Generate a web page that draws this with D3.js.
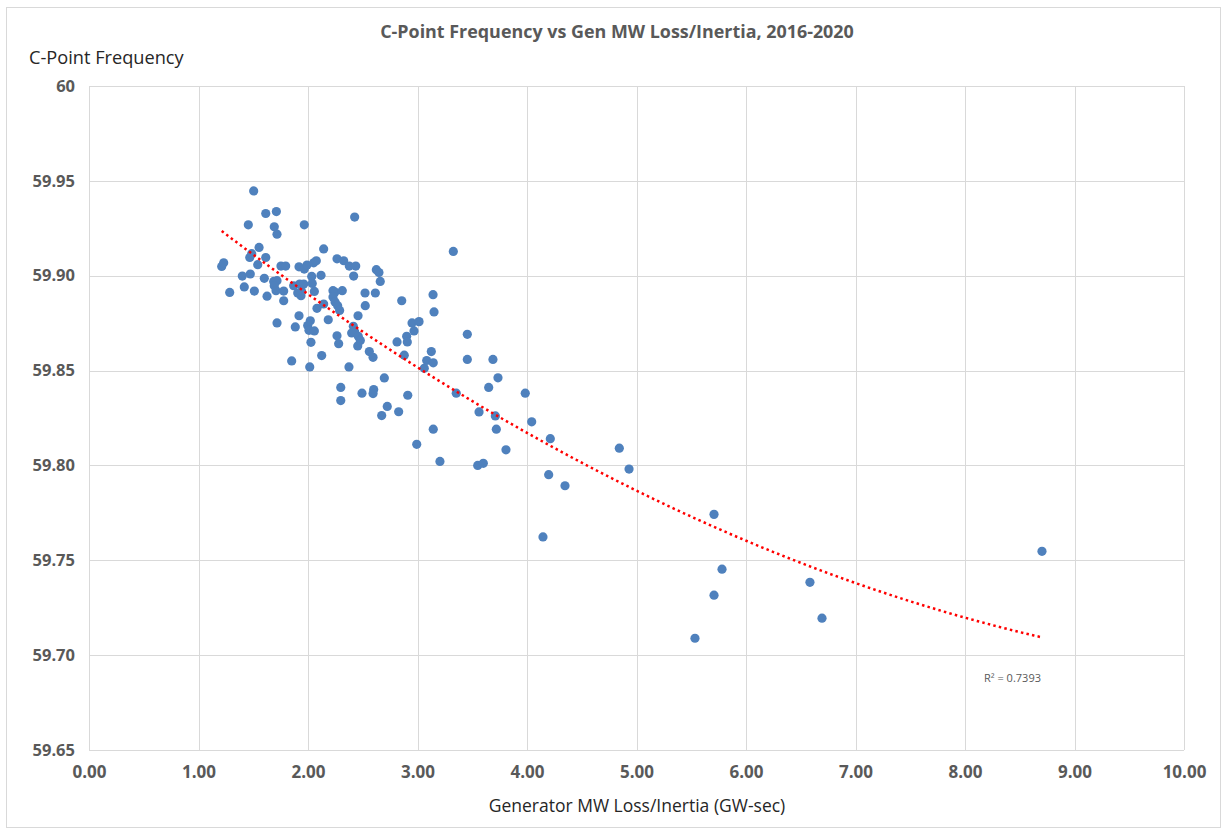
<!DOCTYPE html>
<html lang="en">
  <head>
    <meta charset="UTF-8" />
    <title>C-Point Frequency vs Gen MW Loss/Inertia</title>
    <style>
      * {
        margin: 0;
        padding: 0;
      }
      body {
        background: #fff;
      }
      svg text {
        font-family: 'Open Sans', Carlito, sans-serif;
      }
    </style>
  </head>
  <body>
    <script src="https://cdn.jsdelivr.net/npm/d3@7"></script>
    <script>
      // generator MW loss / inertia (GW-sec)
      const lossInertia = [
        1.212, 1.23, 1.285, 1.4, 1.418, 1.455, 1.468, 1.473, 1.486, 1.504,
        1.51, 1.541, 1.553, 1.601, 1.614, 1.614, 1.626, 1.687, 1.692, 1.711,
        1.717, 1.717, 1.692, 1.717, 1.708, 1.753, 1.796, 1.778, 1.778, 1.851,
        1.869, 1.884, 1.906, 1.918, 1.918, 1.924, 1.936, 1.942, 1.961, 1.966,
        1.966, 1.991, 1.997, 2.009, 2.021, 2.016, 2.027, 2.034, 2.039, 2.052,
        2.058, 2.058, 2.076, 2.082, 2.119, 2.125, 2.143, 2.143, 2.185, 2.228,
        2.247, 2.228, 2.247, 2.271, 2.289, 2.265, 2.265, 2.28, 2.299, 2.299,
        2.313, 2.326, 2.374, 2.377, 2.399, 2.414, 2.417, 2.426, 2.426, 2.436,
        2.454, 2.457, 2.459, 2.478, 2.493, 2.521, 2.523, 2.56, 2.594, 2.6,
        2.594, 2.615, 2.624, 2.648, 2.66, 2.673, 2.697, 2.724, 2.813, 2.828,
        2.856, 2.879, 2.901, 2.907, 2.911, 2.95, 2.968, 3.014, 2.993, 3.062,
        3.084, 3.126, 3.144, 3.142, 3.151, 3.144, 3.205, 3.327, 3.354, 3.455,
        3.455, 3.55, 3.601, 3.562, 3.65, 3.689, 3.711, 3.72, 3.735, 3.808,
        3.984, 4.043, 4.146, 4.198, 4.213, 4.347, 4.843, 4.932, 5.534, 5.708,
        5.708, 5.781, 6.584, 6.694, 8.703
      ]

      // C-point frequency (Hz)
      const cPointFreq = [
        59.9049, 59.9068, 59.8912, 59.8998, 59.8941, 59.9268, 59.9096, 59.9009, 59.9116, 59.9447,
        59.8919, 59.9058, 59.9149, 59.8986, 59.9328, 59.9096, 59.8892, 59.897, 59.9258, 59.9338,
        59.9219, 59.8974, 59.8947, 59.8751, 59.8921, 59.9051, 59.9051, 59.8919, 59.8868, 59.8551,
        59.8947, 59.873, 59.8909, 59.9047, 59.8789, 59.8956, 59.8895, 59.8917, 59.8956, 59.9268,
        59.9035, 59.9056, 59.8737, 59.8712, 59.8762, 59.8519, 59.8649, 59.8996, 59.8959, 59.9068,
        59.8917, 59.8709, 59.9079, 59.8828, 59.9002, 59.8579, 59.9141, 59.8851, 59.8768, 59.8921,
        59.8914, 59.8888, 59.8862, 59.8842, 59.8817, 59.9089, 59.8683, 59.8642, 59.8411, 59.8342,
        59.8921, 59.9079, 59.8519, 59.9051, 59.8698, 59.8733, 59.8998, 59.9309, 59.8704, 59.9051,
        59.863, 59.8789, 59.8681, 59.8659, 59.8381, 59.8909, 59.8842, 59.86, 59.857, 59.84,
        59.8379, 59.8909, 59.9032, 59.9017, 59.897, 59.8263, 59.8461, 59.8311, 59.8651, 59.8283,
        59.8868, 59.8581, 59.8681, 59.8651, 59.837, 59.8751, 59.8709, 59.8758, 59.8111, 59.8512,
        59.8553, 59.86, 59.8541, 59.89, 59.8809, 59.8191, 59.8021, 59.9128, 59.8381, 59.8691,
        59.8559, 59.8, 59.8011, 59.8282, 59.8411, 59.8559, 59.8261, 59.8191, 59.8462, 59.8082,
        59.8381, 59.823, 59.7623, 59.7951, 59.8141, 59.7893, 59.8091, 59.7981, 59.7089, 59.7742,
        59.7316, 59.7453, 59.7384, 59.7195, 59.7547
      ]

      const xTicks = [0, 1, 2, 3, 4, 5, 6, 7, 8, 9, 10]
      const yTicks = [59.65, 59.7, 59.75, 59.8, 59.85, 59.9, 59.95, 60]
      const rSquaredLabel = 'R² = 0.7393'

      const width = 1227
      const height = 833
      const margin = { top: 86, right: 43, bottom: 83, left: 89 }

      const svg = d3
        .select('body')
        .append('svg')
        .attr('width', width)
        .attr('height', height)

      // outer chart border
      svg
        .append('rect')
        .attr('x', 6.5)
        .attr('y', 7.5)
        .attr('width', width - 13)
        .attr('height', height - 13)
        .attr('fill', '#fff')
        .attr('stroke', '#d9d9d9')

      const x = d3
        .scaleLinear()
        .domain([0, 10])
        .range([margin.left, width - margin.right])
      const y = d3
        .scaleLinear()
        .domain([59.65, 60])
        .range([height - margin.bottom, margin.top])

      // gridlines
      svg
        .append('g')
        .selectAll('line')
        .data(xTicks)
        .join('line')
        .attr('x1', d => Math.round(x(d)) + 0.5)
        .attr('x2', d => Math.round(x(d)) + 0.5)
        .attr('y1', y(60))
        .attr('y2', y(59.65))
        .attr('stroke', '#d9d9d9')
      svg
        .append('g')
        .selectAll('line')
        .data(yTicks)
        .join('line')
        .attr('x1', x(0))
        .attr('x2', x(10))
        .attr('y1', d => Math.round(y(d)) + 0.5)
        .attr('y2', d => Math.round(y(d)) + 0.5)
        .attr('stroke', '#d9d9d9')

      // axes (labels only, lines come from the grid)
      const xAxis = svg
        .append('g')
        .attr('transform', `translate(0,${y(59.65)})`)
        .call(d3.axisBottom(x).tickValues(xTicks).tickFormat(d3.format('.2f')).tickSize(0).tickPadding(16))
      const yAxis = svg
        .append('g')
        .attr('transform', `translate(${x(0)},0)`)
        .call(
          d3
            .axisLeft(y)
            .tickValues(yTicks)
            .tickFormat(d => (d === 60 ? '60' : d3.format('.2f')(d)))
            .tickSize(0)
            .tickPadding(14)
        )
      ;[xAxis, yAxis].forEach(g => {
        g.select('.domain').remove()
        g.selectAll('text')
          .attr('fill', '#595959')
          .attr('font-weight', 'bold')
          .style('font-family', "'Open Sans', sans-serif")
      })
      xAxis.selectAll('text').attr('font-size', 17)
      yAxis.selectAll('text').attr('font-size', 16.5)

      // quadratic trendline (least squares on the points)
      function quadFit(xs, ys) {
        const n = xs.length
        let s = [0, 0, 0, 0, 0]
        let t = [0, 0, 0]
        for (let i = 0; i < n; i++) {
          const xv = xs[i]
          for (let k = 0; k < 5; k++) s[k] += Math.pow(xv, k)
          for (let k = 0; k < 3; k++) t[k] += ys[i] * Math.pow(xv, k)
        }
        const A = [
          [s[0], s[1], s[2], t[0]],
          [s[1], s[2], s[3], t[1]],
          [s[2], s[3], s[4], t[2]]
        ]
        for (let i = 0; i < 3; i++) {
          for (let j = i + 1; j < 3; j++) {
            const f = A[j][i] / A[i][i]
            for (let k = i; k < 4; k++) A[j][k] -= f * A[i][k]
          }
        }
        const c = [0, 0, 0]
        for (let i = 2; i >= 0; i--) {
          let v = A[i][3]
          for (let k = i + 1; k < 3; k++) v -= A[i][k] * c[k]
          c[i] = v / A[i][i]
        }
        return c
      }
      const coef = quadFit(lossInertia, cPointFreq)
      const xMin = d3.min(lossInertia)
      const xMax = d3.max(lossInertia)
      const trendPts = d3.range(0, 101).map(i => {
        const xv = xMin + ((xMax - xMin) * i) / 100
        return [xv, coef[0] + coef[1] * xv + coef[2] * xv * xv]
      })

      // points
      svg
        .append('g')
        .selectAll('circle')
        .data(lossInertia)
        .join('circle')
        .attr('cx', d => x(d))
        .attr('cy', (d, i) => y(cPointFreq[i]))
        .attr('r', 4.6)
        .attr('fill', '#4f81bd')

      svg
        .append('path')
        .datum(trendPts)
        .attr('fill', 'none')
        .attr('stroke', '#ff0000')
        .attr('stroke-width', 2.5)
        .attr('stroke-dasharray', '2.5 3.2')
        .attr(
          'd',
          d3
            .line()
            .x(d => x(d[0]))
            .y(d => y(d[1]))
        )

      svg
        .append('text')
        .attr('x', 984)
        .attr('y', 682)
        .attr('font-size', 11)
        .attr('fill', '#595959')
        .text(rSquaredLabel)

      // titles
      svg
        .append('text')
        .attr('x', 617)
        .attr('y', 38)
        .attr('text-anchor', 'middle')
        .attr('font-size', 17.9)
        .attr('font-weight', 'bold')
        .attr('fill', '#595959')
        .text('C-Point Frequency vs Gen MW Loss/Inertia, 2016-2020')

      svg
        .append('text')
        .attr('x', 29)
        .attr('y', 64)
        .attr('font-size', 18.2)
        .attr('fill', '#262626')
        .text('C-Point Frequency')

      svg
        .append('text')
        .attr('x', 637)
        .attr('y', 812)
        .attr('text-anchor', 'middle')
        .attr('font-size', 17.5)
        .attr('fill', '#262626')
        .text('Generator MW Loss/Inertia (GW-sec)')
    </script>
  </body>
</html>
